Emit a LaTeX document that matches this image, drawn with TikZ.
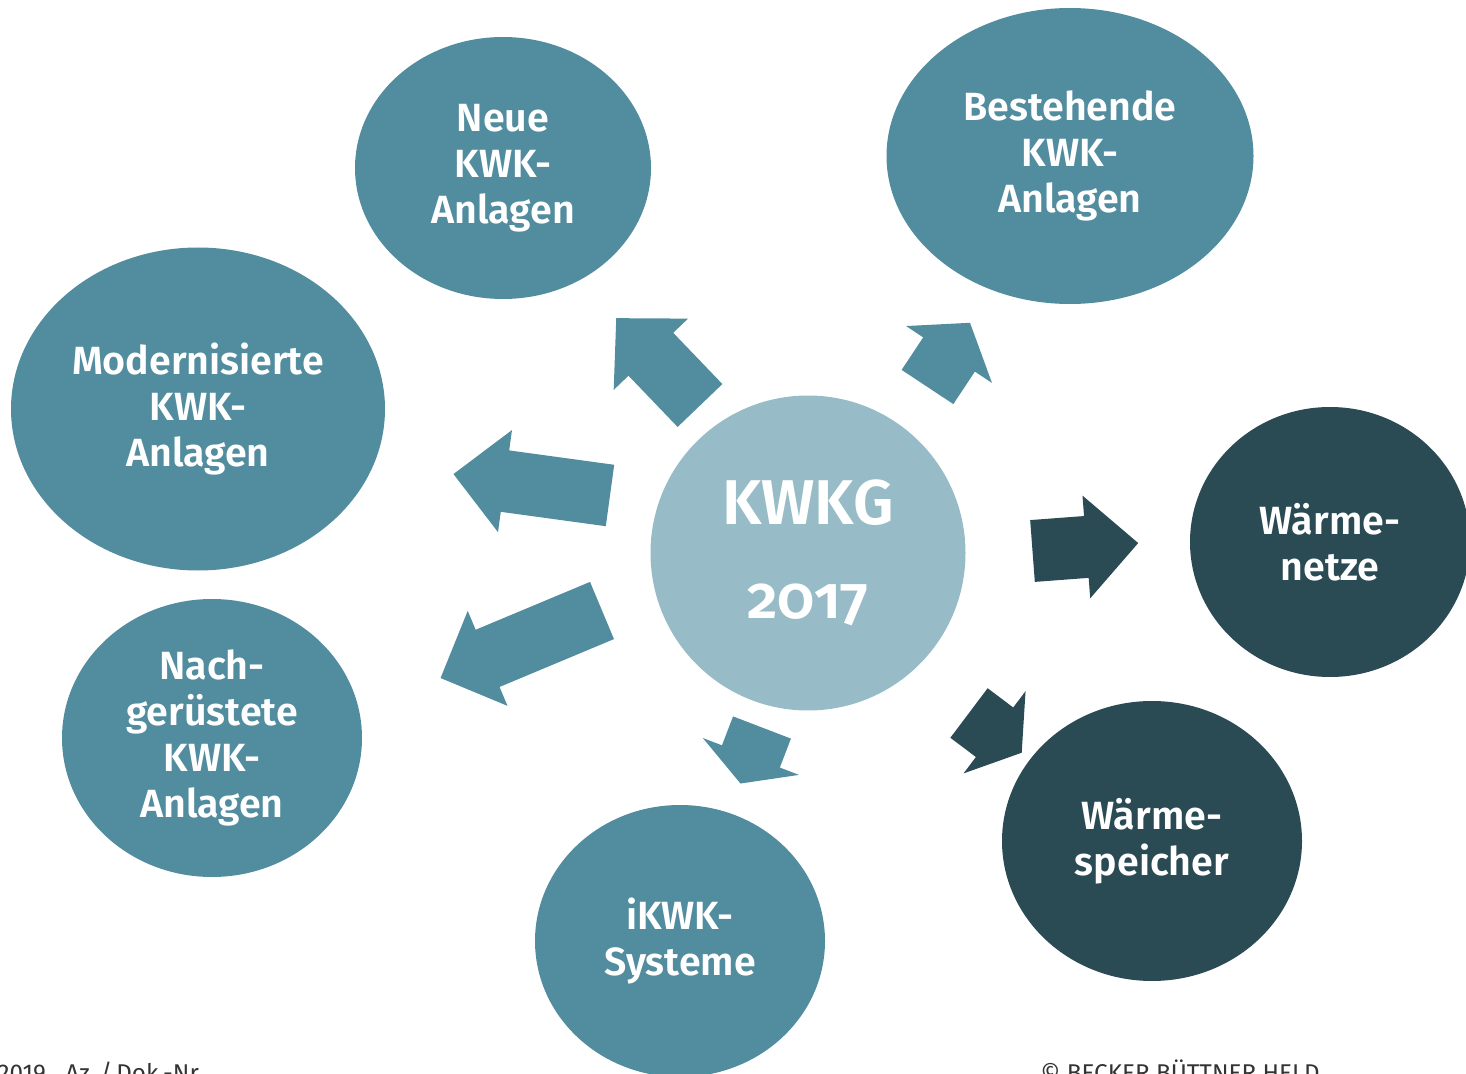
\documentclass[tikz,border=0pt]{standalone}
\usepackage{fontspec}
\setmainfont{Fira Sans}[BoldFont={Fira Sans SemiBold}]
\usetikzlibrary{shapes.geometric}

\definecolor{kwkteal}{HTML}{528D9F}
\definecolor{kwklight}{HTML}{97BCC7}
\definecolor{kwkdark}{HTML}{2A4A54}

% block arrow: style, tail coordinate, angle, length, head length
\newcommand{\blockarrow}[5]{%
    \fill[#1, shift={(#2)}, rotate=#3]
        (0,-0.31) -- ({#4-#5},-0.31) -- ({#4-#5},-0.515) -- (#4,0)
        -- ({#4-#5},0.515) -- ({#4-#5},0.31) -- (0,0.31) -- cycle;}

\begin{document}
\begin{tikzpicture}[
        bubble/.style={ellipse, fill=kwkteal, text=white, align=center, inner sep=0pt,
            font=\fontsize{11.2}{13.1}\selectfont\bfseries},
        darkbubble/.style={bubble, fill=kwkdark},
        tealarrow/.style={kwkteal},
        darkarrow/.style={kwkdark},
        footer/.style={anchor=base west, inner sep=0pt, text=black!80,
            font=\fontsize{6.9}{8}\selectfont}
    ]
    \useasboundingbox (0, 0) rectangle (14.66, 10.73);
    \clip (0, 0) rectangle (14.66, 10.73);

    % centre
    \node[circle, fill=kwklight, text=white, minimum size=3.15cm, inner sep=0pt, align=center,
        font=\fontsize{18}{26.7}\selectfont\bfseries\addfontfeatures{Numbers=OldStyle}]
        (kwkg) at (8.08, 5.20) {KWKG\\{\fontsize{17}{26.7}\selectfont 2017}};

    % outer bubbles
    \node[bubble, minimum width=2.96cm, minimum height=2.62cm] (neue) at (5.03, 9.05) {Neue\\KWK-\\Anlagen};
    \node[bubble, minimum width=3.67cm, minimum height=2.96cm] (best) at (10.70, 9.17) {Bestehende\\KWK-\\Anlagen};
    \node[bubble, minimum width=3.74cm, minimum height=3.23cm] (modern) at (1.98, 6.64) {Modernisierte\\KWK-\\Anlagen};
    \node[bubble, minimum width=3.00cm, minimum height=2.78cm] (nach) at (2.12, 3.35) {Nach-\\gerüstete\\KWK-\\Anlagen};
    \node[bubble, minimum width=2.90cm, minimum height=2.72cm] (ikwk) at (6.80, 1.32) {iKWK-\\Systeme};
    \node[darkbubble, minimum width=2.80cm, minimum height=2.70cm] (netze) at (13.30, 5.31) {Wärme-\\netze};
    \node[darkbubble, minimum width=3.00cm, minimum height=2.80cm] (speicher) at (11.52, 2.32) {Wärme-\\speicher};

    % arrows
    \coordinate (a-neue) at (7.00, 6.675);
    \coordinate (a-best) at (9.275, 6.86);
    \coordinate (a-modern) at (6.10, 5.775);
    \coordinate (a-nach) at (6.02, 4.625);
    \coordinate (a-ikwk) at (7.62, 3.455);
    \coordinate (a-speicher) at (9.69, 3.60);
    \coordinate (a-netze) at (10.325, 5.22);

    \blockarrow{tealarrow}{a-neue}{133.8}{1.21}{0.50}
    \blockarrow{tealarrow}{a-best}{56.5}{0.77}{0.38}
    \blockarrow{tealarrow}{a-modern}{172.2}{1.58}{0.52}
    \blockarrow{tealarrow}{a-nach}{202.7}{1.75}{0.51}
    \blockarrow{tealarrow}{a-ikwk}{249}{0.60}{0.29}
    \blockarrow{darkarrow}{a-speicher}{-37}{0.66}{0.34}
    \blockarrow{darkarrow}{a-netze}{4.3}{1.06}{0.52}

    % footer, cut at the lower edge
    \node[footer] (datum) at (-0.03, -0.08) {2019\hspace{0.8em}Az.\,/\,Dok.-Nr.};
    \node[footer] (copy) at (10.40, -0.08) {© BECKER BÜTTNER HELD};
\end{tikzpicture}
\end{document}
